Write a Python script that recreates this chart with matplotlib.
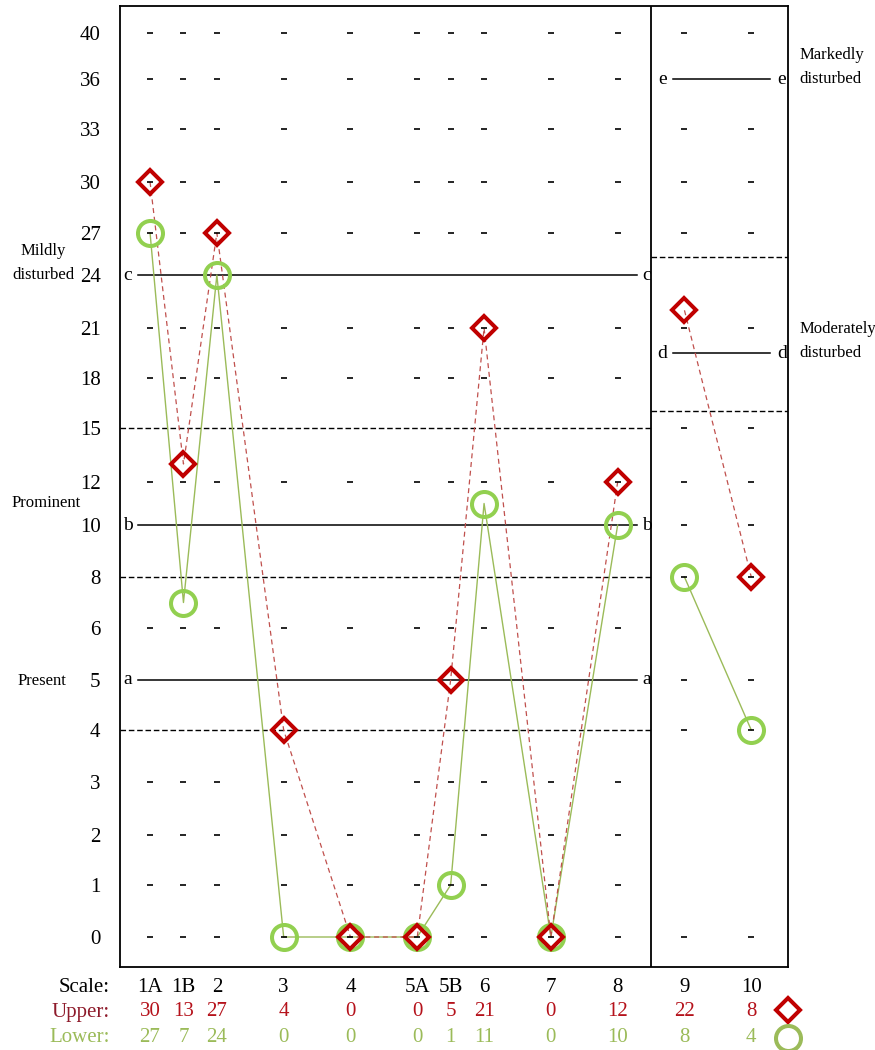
import numpy as np
import matplotlib.pyplot as plt
from matplotlib.transforms import blended_transform_factory

plt.rcParams['font.family'] = ['Liberation Serif', 'DejaVu Serif']

# ── DATA ────────────────────────────────────────────────────────────
SCALES = ["1A", "1B", "2", "3", "4", "5A", "5B", "6", "7", "8", "9", "10"]
UPPER  = [30, 13, 27, 4, 0, 0, 5, 21, 0, 12, 22, 8]
LOWER  = [27, 7, 24, 0, 0, 0, 1, 11, 0, 10, 8, 4]
LEVELS = [0, 1, 2, 3, 4, 5, 6, 8, 10, 12, 15, 18, 21, 24, 27, 30, 33, 36, 40]

# rows that carry a "-" placeholder in each panel
LEFT_DASH_ROWS  = [40, 36, 33, 30, 27, 21, 18, 12, 6, 3, 2, 1, 0]
RIGHT_DASH_ROWS = [40, 33, 30, 27, 21, 15, 12, 10, 8, 5, 4, 0]

# cut-off lines (letter, level)
LEFT_CUTS   = [("a", 5), ("b", 10), ("c", 24)]
RIGHT_CUTS  = [("d", 19.5), ("e", 36)]
LEFT_BANDS  = [4, 8, 15]
RIGHT_BANDS = [16, 25.3]
# ────────────────────────────────────────────────────────────────────

# layout: column positions (scales 9 and 10 sit in a separate panel)
col_x = np.array([0, 1, 2, 4, 6, 8, 9, 10, 12, 14, 16, 18], dtype=float)
n_left = 10
divider = 15

RED = "#C00000"
RED_LINE = "#C0504D"
GREEN = "#92D050"
GREEN_LINE = "#9BBB59"

# non-linear rating axis: row heights follow the printed form
row_px = np.array([937, 885, 835, 782, 730, 680, 628, 577, 525, 482,
                   428, 378, 328, 275, 233, 182, 129, 79, 33], dtype=float)
row_pos = (937 - row_px) / 50
_lv = np.concatenate([[-2], LEVELS, [48]])
_ps = np.concatenate([[-2.08], row_pos, [row_pos[-1] + 1.84]])


def fwd(v):
    return np.interp(v, _lv, _ps)


def inv(p):
    return np.interp(p, _ps, _lv)


fig = plt.figure(figsize=(8.75, 10.5), dpi=100)
ax = fig.add_axes([120 / 875, 1 - 967 / 1050, 668 / 875, 961 / 1050])
ax.set_yscale("function", functions=(fwd, inv))
ax.set_xlim(-0.9, 19.1)
ax.set_ylim(inv(-0.6), inv(18.62))

ax.set_xticks([])
ax.set_yticks(LEVELS)
ax.set_yticklabels([str(v) for v in LEVELS])
ax.tick_params(axis="y", length=0, pad=14, labelsize=15)
for sp in ax.spines.values():
    sp.set_linewidth(1.3)

# panel divider
ax.axvline(divider, color="black", lw=1.3)

# placeholder dashes
for i, x in enumerate(col_x):
    rows = LEFT_DASH_ROWS if i < n_left else RIGHT_DASH_ROWS
    ax.plot([x] * len(rows), rows, ls="none", marker="_", ms=5, mew=1.2,
            color="black", zorder=5)

# dashed band borders
for lv in LEFT_BANDS:
    ax.plot([-0.9, divider], [lv, lv], color="black", lw=1.0, ls=(0, (4, 2)))
for lv in RIGHT_BANDS:
    ax.plot([divider, 19.1], [lv, lv], color="black", lw=1.0, ls=(0, (4, 2)))

# solid cut-off lines with letters
for letter, lv in LEFT_CUTS:
    ax.plot([-0.36, 14.58], [lv, lv], color="black", lw=1.1)
    ax.text(-0.66, lv, letter, ha="center", va="center", fontsize=14)
    ax.text(14.88, lv, letter, ha="center", va="center", fontsize=14)
for letter, lv in RIGHT_CUTS:
    ax.plot([15.66, 18.56], [lv, lv], color="black", lw=1.1)
    ax.text(15.33, lv, letter, ha="center", va="center", fontsize=14)
    ax.text(18.92, lv, letter, ha="center", va="center", fontsize=14)


# side annotations
def side_label(x, lv, text, dy=0, ha="center"):
    ax.annotate(text, xy=(x, lv), xytext=(0, dy), textcoords="offset points",
                ha=ha, va="center", fontsize=12, annotation_clip=False)


side_label(-3.2, 24, "disturbed")
side_label(-3.2, 24, "Mildly", dy=17)
side_label(-3.1, 10, "Prominent", dy=16)
side_label(-3.25, 5, "Present", dy=-1)
side_label(19.43, 36, "disturbed", ha="left")
side_label(19.43, 36, "Markedly", dy=17, ha="left")
side_label(19.43, 19.5, "disturbed", ha="left")
side_label(19.43, 19.5, "Moderately", dy=17, ha="left")

# profile lines
upper = np.array(UPPER)
lower = np.array(LOWER)
for seg in (slice(0, n_left), slice(n_left, None)):
    ax.plot(col_x[seg], lower[seg], color=GREEN_LINE, lw=1.0, zorder=2)
    ax.plot(col_x[seg], upper[seg], color=RED_LINE, lw=0.9,
            ls=(0, (4, 3)), zorder=2)

ax.plot(col_x, lower, ls="none", marker="o", ms=18, mfc="none",
        mec=GREEN, mew=2.9, zorder=3)
ax.plot(col_x, upper, ls="none", marker="D", ms=12.5, mfc="none",
        mec=RED, mew=2.9, zorder=4)

# score table under the chart
trans = blended_transform_factory(ax.transData, fig.transFigure)
y_scale, y_up, y_low = 1 - 988 / 1050, 1 - 1012 / 1050, 1 - 1037 / 1050
ax.text(-1.2, y_scale, "Scale:", ha="right", va="center", fontsize=15,
        transform=trans)
ax.text(-1.2, y_up, "Upper:", ha="right", va="center", fontsize=15,
        color="#8E1B2B", transform=trans)
ax.text(-1.2, y_low, "Lower:", ha="right", va="center", fontsize=15,
        color=GREEN_LINE, transform=trans)
for x, s, u, l in zip(col_x, SCALES, UPPER, LOWER):
    ax.text(x, y_scale, s, ha="center", va="center", fontsize=15,
            transform=trans)
    ax.text(x, y_up, str(u), ha="center", va="center", fontsize=15,
            color="#B5121B", transform=trans)
    ax.text(x, y_low, str(l), ha="center", va="center", fontsize=15,
            color=GREEN_LINE, transform=trans)

# legend symbols
ax.plot([19.1], [1 - 1010 / 1050], marker="D", ms=12.5, mfc="none", mec=RED,
        mew=2.9, transform=trans, clip_on=False)
ax.plot([19.1], [1 - 1038 / 1050], marker="o", ms=18, mfc="none",
        mec=GREEN_LINE, mew=2.9, transform=trans, clip_on=False)

fig.savefig("out.png", dpi=100)
